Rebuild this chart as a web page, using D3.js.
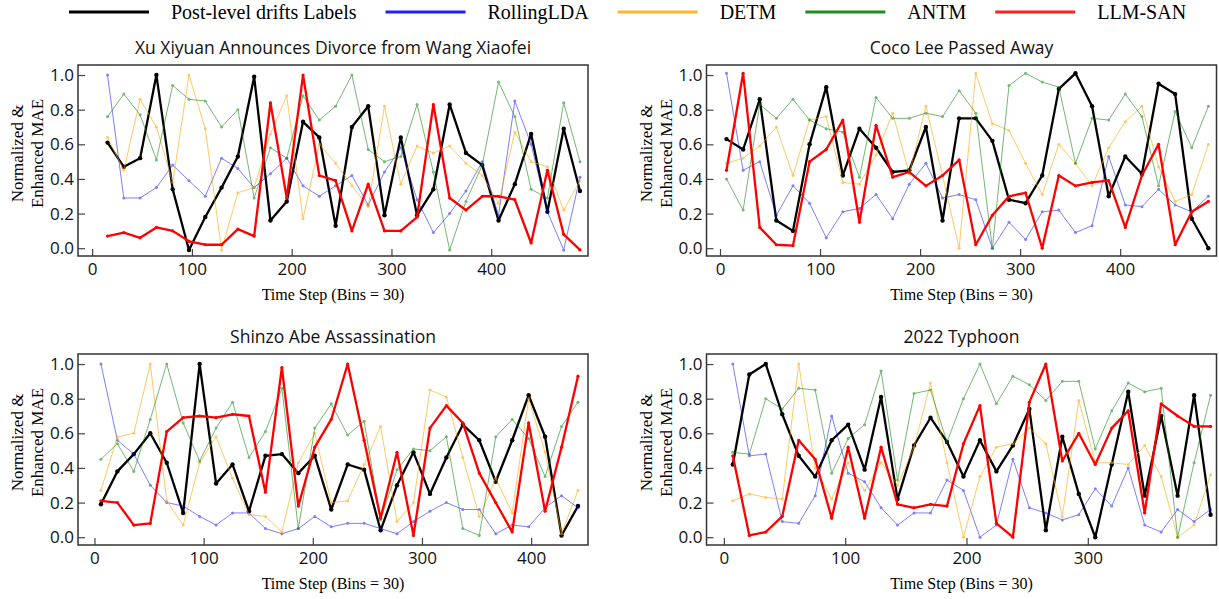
<!DOCTYPE html>
<html>
<head>
<meta charset="utf-8">
<script src="https://cdn.jsdelivr.net/npm/d3@7"></script>
<style>
  body { margin: 0; background: #fff; }
  .tick text { font-family: "Open Sans", sans-serif; font-size: 17px; fill: #111; }
  .tick line { stroke: #444; stroke-width: 1.2; }
</style>
</head>
<body>
<script>
// series in plotting order
var seriesNames = ["Post-level drifts Labels", "RollingLDA", "DETM", "ANTM", "LLM-SAN"];
var panelTitles = [
  "Xu Xiyuan Announces Divorce from Wang Xiaofei",
  "Coco Lee Passed Away",
  "Shinzo Abe Assassination",
  "2022 Typhoon"
];
var yTicks = [0, 0.2, 0.4, 0.6, 0.8, 1.0];
var xTicks = [
  [0, 100, 200, 300, 400],
  [0, 100, 200, 300, 400],
  [0, 100, 200, 300, 400],
  [0, 100, 200, 300]
];
// time step domain shown on each x axis, first bin centre and bin width
var xDomains = [[-14.2, 497], [-13.5, 496.3], [-15.1, 452.1], [-14.3, 406.1]];
var binStart = [15.4, 6.5, 5.9, 7.4];
var binStep = [16.33, 16.61, 15.07, 13.58];

// Xu Xiyuan
var divorceLabels  = [0.61, 0.47, 0.52, 1.00, 0.34, -0.01, 0.18, 0.35, 0.53, 0.99, 0.16, 0.27, 0.73, 0.64, 0.13, 0.70, 0.82, 0.19, 0.64, 0.19, 0.34, 0.83, 0.55, 0.48, 0.16, 0.37, 0.66, 0.21, 0.69, 0.33];
var divorceRolling = [1.00, 0.29, 0.29, 0.35, 0.48, 0.39, 0.30, 0.52, 0.46, 0.35, 0.43, 0.52, 0.36, 0.30, 0.36, 0.42, 0.25, 0.44, 0.58, 0.28, 0.09, 0.20, 0.33, 0.50, 0.19, 0.85, 0.60, 0.21, -0.01, 0.41];
var divorceDetm    = [0.64, 0.45, 0.86, 0.70, 0.38, 1.00, 0.69, -0.01, 0.32, 0.35, 0.66, 0.88, 0.17, 0.60, 0.49, 0.36, 0.24, 0.82, 0.37, 0.59, 0.55, 0.59, 0.49, 0.42, 0.26, 0.67, 0.50, 0.47, 0.22, 0.39];
var divorceAntm    = [0.76, 0.89, 0.77, 0.51, 0.94, 0.86, 0.85, 0.70, 0.80, 0.29, 0.58, 0.52, 0.88, 0.74, 0.82, 1.00, 0.57, 0.50, 0.53, 0.83, 0.44, -0.01, 0.27, 0.48, 0.96, 0.76, 0.34, 0.29, 0.84, 0.50];
var divorceLlmSan  = [0.07, 0.09, 0.06, 0.12, 0.10, 0.04, 0.02, 0.02, 0.11, 0.07, 0.84, 0.29, 1.00, 0.42, 0.39, 0.10, 0.37, 0.10, 0.10, 0.18, 0.83, 0.29, 0.22, 0.30, 0.30, 0.28, 0.03, 0.45, 0.08, -0.01];

// Coco Lee
var cocoLabels  = [0.63, 0.57, 0.86, 0.16, 0.10, 0.60, 0.93, 0.42, 0.69, 0.58, 0.44, 0.45, 0.70, 0.16, 0.75, 0.75, 0.62, 0.28, 0.26, 0.42, 0.92, 1.01, 0.82, 0.30, 0.53, 0.43, 0.95, 0.89, 0.17, 0.00];
var cocoRolling = [1.01, 0.45, 0.50, 0.19, 0.36, 0.26, 0.06, 0.21, 0.23, 0.31, 0.17, 0.37, 0.49, 0.29, 0.31, 0.28, 0.00, 0.15, 0.05, 0.21, 0.22, 0.09, 0.13, 0.53, 0.25, 0.24, 0.34, 0.25, 0.21, 0.30];
var cocoDetm    = [0.49, 0.52, 0.59, 0.70, 0.42, 0.74, 0.76, 0.38, 0.37, 0.54, 0.78, 0.43, 0.82, 0.42, 0.00, 1.01, 0.72, 0.68, 0.49, 0.31, 0.60, 0.49, 0.36, 0.58, 0.73, 0.82, 0.47, 0.27, 0.31, 0.60];
var cocoAntm    = [0.40, 0.22, 0.83, 0.75, 0.86, 0.74, 0.69, 0.67, 0.41, 0.87, 0.75, 0.75, 0.78, 0.76, 0.91, 0.78, 0.00, 0.94, 1.01, 0.96, 0.93, 0.49, 0.75, 0.74, 0.89, 0.76, 0.36, 0.79, 0.58, 0.82];
var cocoLlmSan  = [0.45, 1.01, 0.12, 0.02, 0.015, 0.50, 0.57, 0.74, 0.15, 0.71, 0.41, 0.44, 0.36, 0.42, 0.51, 0.02, 0.19, 0.30, 0.32, 0.00, 0.42, 0.36, 0.38, 0.39, 0.12, 0.42, 0.60, 0.02, 0.21, 0.27];

// Shinzo Abe
var abeLabels  = [0.19, 0.38, 0.48, 0.60, 0.43, 0.14, 1.00, 0.31, 0.42, 0.15, 0.47, 0.48, 0.37, 0.47, 0.16, 0.42, 0.39, 0.04, 0.30, 0.49, 0.25, 0.46, 0.65, 0.56, 0.32, 0.56, 0.82, 0.58, 0.01, 0.18];
var abeRolling = [1.00, 0.56, 0.48, 0.30, 0.20, 0.18, 0.12, 0.07, 0.14, 0.14, 0.05, 0.02, 0.05, 0.12, 0.06, 0.08, 0.08, 0.05, 0.02, 0.09, 0.15, 0.20, 0.16, 0.16, 0.02, 0.07, 0.06, 0.17, 0.24, 0.17];
var abeDetm    = [0.27, 0.58, 0.60, 1.00, 0.21, 0.07, 0.43, 0.58, 0.34, 0.13, 0.12, 0.03, 0.43, 0.60, 0.20, 0.21, 0.42, 0.64, 0.09, 0.20, 0.85, 0.81, 0.46, 0.12, 0.34, 0.14, 0.80, 0.49, 0.02, 0.27];
var abeAntm    = [0.45, 0.54, 0.38, 0.68, 1.00, 0.66, 0.44, 0.63, 0.78, 0.46, 0.61, 0.86, 0.05, 0.63, 0.77, 0.59, 0.67, 0.10, 0.39, 0.51, 0.50, 0.58, 0.05, 0.01, 0.58, 0.68, 0.57, 0.35, 0.64, 0.78];
var abeLlmSan  = [0.21, 0.20, 0.07, 0.08, 0.61, 0.69, 0.70, 0.69, 0.71, 0.70, 0.26, 0.98, 0.18, 0.52, 0.68, 1.00, 0.56, 0.11, 0.49, 0.01, 0.63, 0.76, 0.66, 0.37, 0.20, 0.03, 0.66, 0.15, 0.52, 0.93];

// 2022 Typhoon
var typhoonLabels  = [0.42, 0.94, 1.00, 0.71, 0.47, 0.35, 0.56, 0.65, 0.39, 0.81, 0.22, 0.53, 0.69, 0.55, 0.35, 0.56, 0.38, 0.53, 0.74, 0.04, 0.58, 0.25, 0.00, 0.42, 0.84, 0.24, 0.70, 0.24, 0.82, 0.13];
var typhoonRolling = [1.00, 0.47, 0.48, 0.09, 0.08, 0.24, 0.70, 0.37, 0.32, 0.17, 0.07, 0.14, 0.14, 0.33, 0.27, 0.00, 0.07, 0.45, 0.17, 0.14, 0.10, 0.13, 0.28, 0.18, 0.40, 0.07, 0.03, 0.16, 0.09, 0.16];
var typhoonDetm    = [0.21, 0.25, 0.23, 0.22, 1.00, 0.40, 0.22, 0.43, 0.27, 0.43, 0.30, 0.52, 0.89, 0.43, 0.00, 0.35, 0.52, 0.54, 0.63, 0.54, 0.12, 0.79, 0.43, 0.43, 0.42, 0.53, 0.35, 0.00, 0.07, 0.36];
var typhoonAntm    = [0.49, 0.48, 0.80, 0.74, 0.86, 0.85, 0.37, 0.57, 0.65, 0.96, 0.33, 0.83, 0.85, 0.55, 0.80, 1.00, 0.77, 0.93, 0.88, 0.79, 0.90, 0.90, 0.51, 0.73, 0.89, 0.84, 0.86, 0.00, 0.43, 0.82];
var typhoonLlmSan  = [0.47, 0.01, 0.03, 0.12, 0.56, 0.45, 0.11, 0.52, 0.11, 0.52, 0.19, 0.17, 0.19, 0.18, 0.54, 0.76, 0.08, 0.00, 0.78, 1.00, 0.44, 0.60, 0.42, 0.63, 0.73, 0.14, 0.77, 0.70, 0.64, 0.64];

var panelData = [
  [divorceLabels, divorceRolling, divorceDetm, divorceAntm, divorceLlmSan],
  [cocoLabels, cocoRolling, cocoDetm, cocoAntm, cocoLlmSan],
  [abeLabels, abeRolling, abeDetm, abeAntm, abeLlmSan],
  [typhoonLabels, typhoonRolling, typhoonDetm, typhoonAntm, typhoonLlmSan]
];

// styles for each series
var styles = [
  {color: "#000000", width: 2.3, opacity: 1, r: 2.2, legend: "#000000"},
  {color: "#0000ff", width: 1, opacity: 0.5, r: 1.5, legend: "#1f1fff"},
  {color: "#ffa500", width: 1, opacity: 0.6, r: 1.5, legend: "#ffb52e"},
  {color: "#008000", width: 1, opacity: 0.55, r: 1.5, legend: "#228b22"},
  {color: "#ff0000", width: 2.3, opacity: 1, r: 1.6, legend: "#ff2020"}
];

var svgWidth = 1219, svgHeight = 599;
var plotW = 510, plotH = 191;
var origins = [[78, 65], [706.5, 65], [78, 354], [706.5, 354]];

var svg = d3.select("body").append("svg")
    .attr("width", svgWidth)
    .attr("height", svgHeight);

var y = d3.scaleLinear().domain([-0.045, 1.058]).range([plotH, 0]);

panelData.forEach(function(series, i) {
  var g = svg.append("g")
      .attr("transform", "translate(" + origins[i][0] + "," + origins[i][1] + ")");

  var x = d3.scaleLinear().domain(xDomains[i]).range([0, plotW]);
  var times = series[0].map(function(d, j) { return binStart[i] + j * binStep[i]; });

  var xAxis = g.append("g")
      .attr("transform", "translate(0," + plotH + ")")
      .call(d3.axisBottom(x).tickValues(xTicks[i]).tickSize(-7).tickPadding(7));
  xAxis.select(".domain").remove();

  var yAxis = g.append("g")
      .call(d3.axisLeft(y).tickValues(yTicks).tickSize(-7).tickPadding(4).tickFormat(d3.format(".1f")));
  yAxis.select(".domain").remove();

  var line = d3.line()
      .x(function(d, j) { return x(times[j]); })
      .y(function(d) { return y(d); });

  series.forEach(function(values, s) {
    var st = styles[s];
    var sg = g.append("g").attr("opacity", st.opacity);
    sg.append("path")
        .attr("d", line(values))
        .attr("fill", "none")
        .attr("stroke", st.color)
        .attr("stroke-width", st.width)
        .attr("stroke-linejoin", "round");
    sg.selectAll("circle")
        .data(values)
        .enter()
        .append("circle")
        .attr("cx", function(d, j) { return x(times[j]); })
        .attr("cy", function(d) { return y(d); })
        .attr("r", st.r)
        .attr("fill", st.color);
  });

  // frame
  g.append("rect")
      .attr("width", plotW)
      .attr("height", plotH)
      .attr("fill", "none")
      .attr("stroke", "#333")
      .attr("stroke-width", 1.5);

  g.append("text")
      .attr("x", plotW / 2)
      .attr("y", -11)
      .attr("text-anchor", "middle")
      .style("font-family", "'Open Sans', sans-serif")
      .style("font-size", "17.5px")
      .attr("fill", "#111")
      .text(panelTitles[i]);

  g.append("text")
      .attr("x", plotW / 2)
      .attr("y", plotH + 44)
      .attr("text-anchor", "middle")
      .style("font-family", "'Liberation Serif', serif")
      .style("font-size", "16px")
      .text("Time Step (Bins = 30)");

  var ylab = g.append("text")
      .attr("transform", "translate(-55," + (plotH / 2 - 7) + ") rotate(-90)")
      .attr("text-anchor", "middle")
      .style("font-family", "'Liberation Serif', serif")
      .style("font-size", "17px");
  ylab.append("tspan").attr("x", 0).attr("y", 0).text("Normalized &");
  ylab.append("tspan").attr("x", 0).attr("y", 20).text("Enhanced MAE");
});

// legend
var legend = svg.append("g").attr("transform", "translate(69,12)");
var lx = 0;
seriesNames.forEach(function(name, s) {
  legend.append("line")
      .attr("x1", lx).attr("x2", lx + 80)
      .attr("stroke", styles[s].legend)
      .attr("stroke-width", 3.2);
  var t = legend.append("text")
      .attr("x", lx + 102)
      .attr("y", 6.5)
      .style("font-family", "'Liberation Serif', serif")
      .style("font-size", "20px")
      .text(name);
  lx += 102 + t.node().getComputedTextLength() + 29;
});
</script>
</body>
</html>
